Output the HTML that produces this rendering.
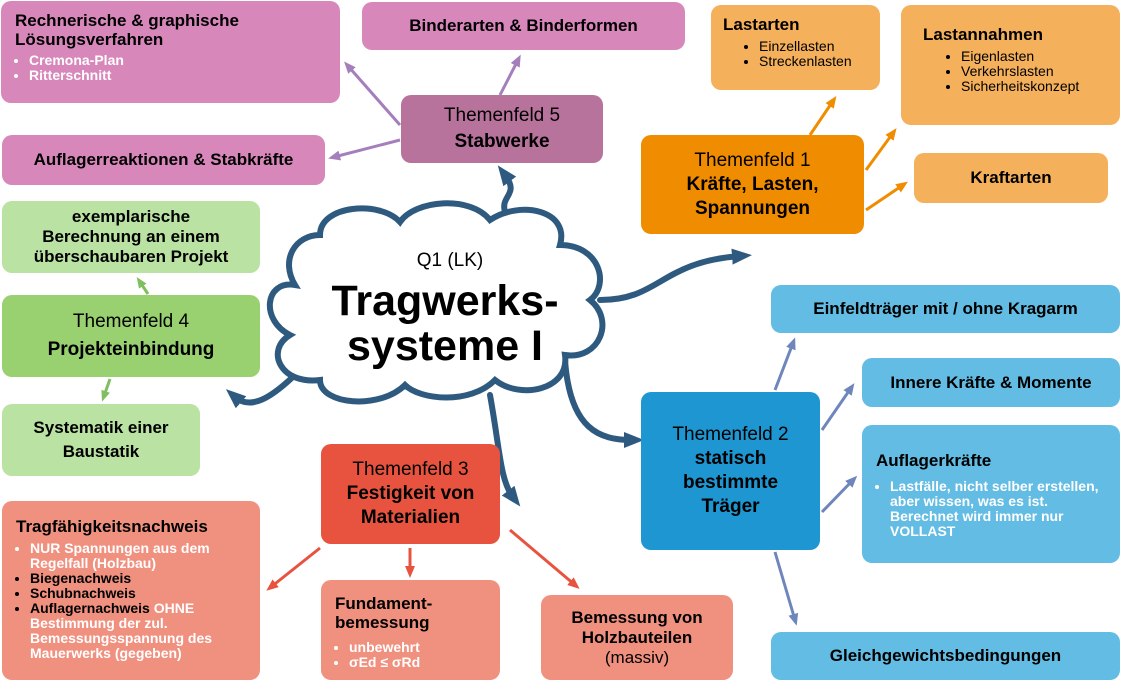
<!DOCTYPE html>
<html><head><meta charset="utf-8"><style>
body{margin:0;width:1121px;height:681px;position:relative;background:#fff;font-family:"Liberation Sans",sans-serif;overflow:hidden}
.b{position:absolute;border-radius:10px;box-sizing:border-box;color:#000}
.c{display:flex;flex-direction:column;align-items:center;justify-content:center;text-align:center}
.bold{font-weight:bold}
ul{margin:4px 0 0 0;padding-left:14px;font-size:14px;line-height:15px}
.w{color:#fff;font-weight:bold}
.pk{background:#d887bb}.or{background:#f5b05c}.lb{background:#62bce3}.rd{background:#f0907f}.gr{background:#b9e2a3}
</style></head><body>
<svg width="1121" height="681" style="position:absolute;left:0;top:0">
<defs>
<marker id="ap" markerUnits="userSpaceOnUse" markerWidth="12" markerHeight="12" refX="6" refY="6" orient="auto"><path d="M0,1 L12,6 L0,11 z" fill="#a57fbb"/></marker>
<marker id="ao" markerUnits="userSpaceOnUse" markerWidth="12" markerHeight="12" refX="6" refY="6" orient="auto"><path d="M0,1 L12,6 L0,11 z" fill="#f08c00"/></marker>
<marker id="ab" markerUnits="userSpaceOnUse" markerWidth="12" markerHeight="12" refX="6" refY="6" orient="auto"><path d="M0,1 L12,6 L0,11 z" fill="#6f86bd"/></marker>
<marker id="ar" markerUnits="userSpaceOnUse" markerWidth="12" markerHeight="12" refX="6" refY="6" orient="auto"><path d="M0,1 L12,6 L0,11 z" fill="#e8533f"/></marker>
<marker id="ag" markerUnits="userSpaceOnUse" markerWidth="11" markerHeight="11" refX="5" refY="5.5" orient="auto"><path d="M0,1 L11,5.5 L0,10 z" fill="#7fbf60"/></marker>
<marker id="ad" markerUnits="userSpaceOnUse" markerWidth="20" markerHeight="20" refX="8" refY="10" orient="auto"><path d="M0,2 L20,10 L0,18 z" fill="#2f5a80"/></marker>
</defs>
<g fill="none" stroke-width="3">
<path d="M400,125 L348,66" stroke="#a57fbb" marker-end="url(#ap)"/>
<path d="M500,95 L518,60" stroke="#a57fbb" marker-end="url(#ap)"/>
<path d="M400,140 L334,157" stroke="#a57fbb" marker-end="url(#ap)"/>
<path d="M810,135 L833,101" stroke="#f08c00" marker-end="url(#ao)"/>
<path d="M866,170 L893,133" stroke="#f08c00" marker-end="url(#ao)"/>
<path d="M866,210 L903,185" stroke="#f08c00" marker-end="url(#ao)"/>
<path d="M775,390 L793,343" stroke="#6f86bd" marker-end="url(#ab)"/>
<path d="M822,430 L851,388" stroke="#6f86bd" marker-end="url(#ab)"/>
<path d="M822,512 L853,480" stroke="#6f86bd" marker-end="url(#ab)"/>
<path d="M775,552 L795,620" stroke="#6f86bd" marker-end="url(#ab)"/>
<path d="M320,548 L271,587" stroke="#e8533f" marker-end="url(#ar)"/>
<path d="M410,548 L410,572" stroke="#e8533f" marker-end="url(#ar)"/>
<path d="M510,530 L575,585" stroke="#e8533f" marker-end="url(#ar)"/>
<path d="M148,294 L140,282" stroke="#7fbf60" marker-end="url(#ag)"/>
<path d="M110,379 L104,396" stroke="#7fbf60" marker-end="url(#ag)"/>
</g>
<g fill="none" stroke="#2f5a80" stroke-width="6" stroke-linecap="round">
<path d="M505,212 C500,195 520,195 505,175" marker-end="url(#ad)"/>
<path d="M600,300 C660,300 660,262 740,256" marker-end="url(#ad)"/>
<path d="M565,360 C570,430 600,440 632,440" marker-end="url(#ad)"/>
<path d="M490,395 C500,450 500,480 513,497" marker-end="url(#ad)"/>
<path d="M300,370 C270,400 250,410 235,397" marker-end="url(#ad)"/>
</g>
<path d="M320,235 C320,205 380,200 400,222 C415,200 470,195 490,220 C520,200 570,210 560,245 C600,245 610,285 590,300 C615,320 600,360 565,355 C570,390 520,400 495,380 C470,405 420,400 405,385 C380,410 320,405 320,380 C280,385 265,350 290,335 C260,320 265,280 295,285 C280,260 295,235 320,235 Z" fill="#fff" stroke="#2f5a80" stroke-width="6"/>
</svg>
<div class="b" style="left:330px;top:250px;width:240px;text-align:center;font-size:19px">Q1 (LK)</div>
<div class="b bold" style="left:300px;top:279px;width:290px;text-align:center;font-size:43px;line-height:45px">Tragwerks-<br>systeme I</div>

<div class="b pk" style="left:1px;top:1px;width:339px;height:102px;padding:10px 14px;font-size:17px;font-weight:bold;line-height:19px">Rechnerische &amp; graphische Lösungsverfahren<ul class="w"><li>Cremona-Plan</li><li>Ritterschnitt</li></ul></div>
<div class="b pk c bold" style="left:362px;top:2px;width:323px;height:48px;font-size:17px">Binderarten &amp; Binderformen</div>
<div class="b c" style="left:401px;top:95px;width:202px;height:68px;background:#b8739d;font-size:19px;line-height:26px">Themenfeld 5<span class="bold">Stabwerke</span></div>
<div class="b pk c bold" style="left:2px;top:135px;width:323px;height:50px;font-size:17px">Auflagerreaktionen &amp; Stabkräfte</div>

<div class="b or" style="left:711px;top:5px;width:169px;height:85px;padding:10px 12px;font-size:17px;font-weight:bold">Lastarten<ul style="font-weight:normal;padding-left:36px"><li>Einzellasten</li><li>Streckenlasten</li></ul></div>
<div class="b or" style="left:901px;top:5px;width:219px;height:120px;padding:20px 22px;font-size:17px;font-weight:bold">Lastannahmen<ul style="font-weight:normal;padding-left:38px"><li>Eigenlasten</li><li>Verkehrslasten</li><li>Sicherheitskonzept</li></ul></div>
<div class="b c" style="left:641px;top:135px;width:223px;height:99px;background:#f08c00;font-size:19px;line-height:24px">Themenfeld 1<span class="bold">Kräfte, Lasten,<br>Spannungen</span></div>
<div class="b or c bold" style="left:914px;top:153px;width:194px;height:50px;font-size:17px">Kraftarten</div>

<div class="b gr c bold" style="left:2px;top:201px;width:258px;height:72px;font-size:17px;line-height:20px">exemplarische<br>Berechnung an einem<br>überschaubaren Projekt</div>
<div class="b c" style="left:2px;top:295px;width:258px;height:82px;background:#99d070;font-size:19px;line-height:28px">Themenfeld 4<span class="bold">Projekteinbindung</span></div>
<div class="b gr c bold" style="left:2px;top:404px;width:198px;height:72px;font-size:17px;line-height:24px">Systematik einer<br>Baustatik</div>

<div class="b lb c bold" style="left:771px;top:285px;width:349px;height:48px;font-size:17px">Einfeldträger mit / ohne Kragarm</div>
<div class="b lb c bold" style="left:862px;top:358px;width:258px;height:49px;font-size:17px">Innere Kräfte &amp; Momente</div>
<div class="b c" style="left:641px;top:392px;width:179px;height:158px;background:#1e96d2;font-size:19px;line-height:24px">Themenfeld 2<span class="bold">statisch<br>bestimmte<br>Träger</span></div>
<div class="b lb" style="left:862px;top:425px;width:258px;height:138px;padding:26px 14px;font-size:17px;font-weight:bold">Auflagerkräfte<ul class="w" style="margin-top:8px"><li>Lastfälle, nicht selber erstellen, aber wissen, was es ist. Berechnet wird immer nur VOLLAST</li></ul></div>
<div class="b lb c bold" style="left:771px;top:632px;width:349px;height:48px;font-size:17px">Gleichgewichtsbedingungen</div>

<div class="b c" style="left:321px;top:444px;width:179px;height:100px;background:#e8533f;font-size:19px;line-height:24px">Themenfeld 3<span class="bold">Festigkeit von<br>Materialien</span></div>
<div class="b rd" style="left:2px;top:501px;width:258px;height:179px;padding:16px 14px;font-size:17px;font-weight:bold">Tragfähigkeitsnachweis<ul><li class="w">NUR Spannungen aus dem Regelfall (Holzbau)</li><li>Biegenachweis</li><li>Schubnachweis</li><li>Auflagernachweis <span class="w">OHNE Bestimmung der zul. Bemessungsspannung des Mauerwerks (gegeben)</span></li></ul></div>
<div class="b rd" style="left:321px;top:580px;width:179px;height:100px;padding:14px 14px;font-size:17px;font-weight:bold;line-height:19px">Fundament-<br>bemessung<ul class="w" style="margin-top:8px"><li>unbewehrt</li><li>σEd ≤ σRd</li></ul></div>
<div class="b rd c" style="left:541px;top:595px;width:192px;height:85px;font-size:17px;line-height:20px"><span class="bold">Bemessung von Holzbauteilen</span>(massiv)</div>
</body></html>
